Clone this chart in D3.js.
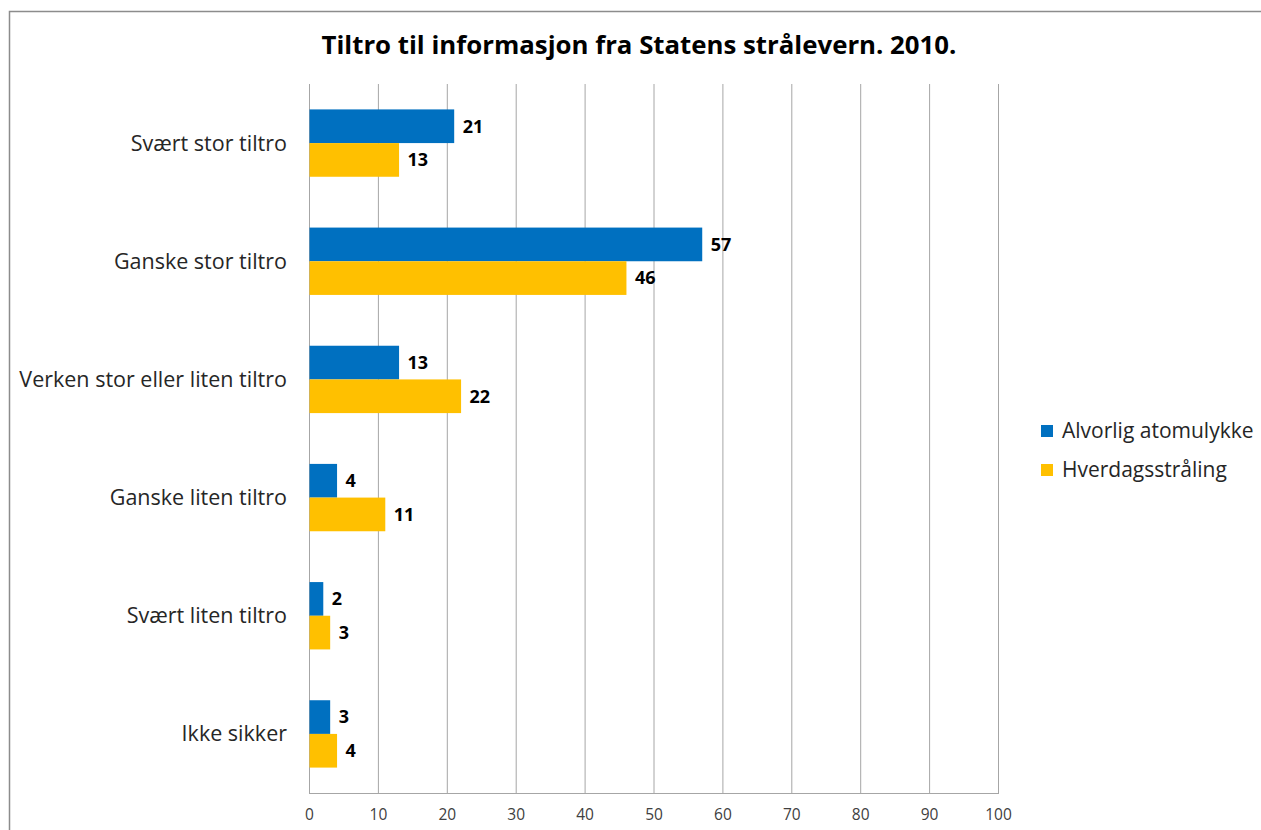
<!DOCTYPE html>
<html><head><meta charset="utf-8">
<script src="https://cdn.jsdelivr.net/npm/d3@7"></script>
<style>body{margin:0;background:#fff;} svg{display:block;}</style>
</head><body>
<svg id="c" width="1261" height="830"></svg>
<script>
const categories = ["Svært stor tiltro","Ganske stor tiltro","Verken stor eller liten tiltro","Ganske liten tiltro","Svært liten tiltro","Ikke sikker"];
const seriesNames = ["Alvorlig atomulykke","Hverdagsstråling"];
const alvorlig = [21,57,13,4,2,3];
const hverdags = [13,46,22,11,3,4];
const xTicks = [0,10,20,30,40,50,60,70,80,90,100];
const colors = ["#0070C0","#FFC000"];
const title = "Tiltro til informasjon fra Statens strålevern. 2010.";

const font = "'Open Sans', sans-serif";
const svg = d3.select("#c");
svg.append("rect").attr("x",9.5).attr("y",11.5).attr("width",1300).attr("height",900)
  .attr("fill","#fff").attr("stroke","#8c8c8c").attr("stroke-width",1.5);

const L=309, R=998, T=84, B=793;
const x = d3.scaleLinear().domain([0,100]).range([L,R]);
const y = d3.scaleBand().domain(categories).range([T,B]).paddingInner(0.43).paddingOuter(0.215);
const sub = d3.scaleBand().domain(seriesNames).range([0,y.bandwidth()]);

// gridlines
svg.append("g").selectAll("line").data(xTicks).join("line")
  .attr("x1",d=>x(d)+0.5).attr("x2",d=>x(d)+0.5).attr("y1",T).attr("y2",B)
  .attr("stroke","#a6a6a6").attr("stroke-width",1);
svg.append("line").attr("x1",L).attr("x2",R+1).attr("y1",B+0.5).attr("y2",B+0.5).attr("stroke","#a6a6a6");

// x axis
const xa = svg.append("g").attr("transform",`translate(0,${B})`).call(d3.axisBottom(x).tickValues(xTicks).tickSize(0).tickPadding(16));
xa.select(".domain").remove();
xa.selectAll("text").attr("font-family",font).attr("font-size",15.5).attr("fill","#404040");

// y labels
svg.append("g").selectAll("text").data(categories).join("text")
  .attr("x",287).attr("y",d=>y(d)+y.bandwidth()/2).attr("dy","0.35em")
  .attr("text-anchor","end").attr("font-family",font).attr("font-size",21.5).attr("fill","#262626").text(d=>d);

const data = [alvorlig,hverdags];
data.forEach((vals,si)=>{
  const g = svg.append("g");
  g.selectAll("rect").data(vals).join("rect")
    .attr("x",x(0)+0.5).attr("y",(d,i)=>y(categories[i])+sub(seriesNames[si]))
    .attr("width",d=>x(d)-x(0)).attr("height",sub.bandwidth())
    .attr("fill",colors[si]);
  g.selectAll("text").data(vals).join("text")
    .attr("x",d=>x(d)+9).attr("y",(d,i)=>y(categories[i])+sub(seriesNames[si])+sub.bandwidth()/2)
    .attr("dy","0.35em").attr("font-family",font).attr("font-size",18).attr("font-weight","bold").attr("fill","#000")
    .text(d=>d);
});

// title
svg.append("text").attr("x",639).attr("y",45).attr("dy","0.35em").attr("text-anchor","middle")
  .attr("font-family",font).attr("font-size",25.8).attr("font-weight","bold").attr("fill","#000").text(title);

// legend
const lg = svg.append("g");
seriesNames.forEach((s,i)=>{
  lg.append("rect").attr("x",1041).attr("y",425+i*39).attr("width",12).attr("height",12).attr("fill",colors[i]);
  lg.append("text").attr("x",1062).attr("y",431+i*39).attr("dy","0.35em").attr("font-family",font)
    .attr("font-size",21).attr("fill","#262626").text(s);
});
</script>
</body></html>
